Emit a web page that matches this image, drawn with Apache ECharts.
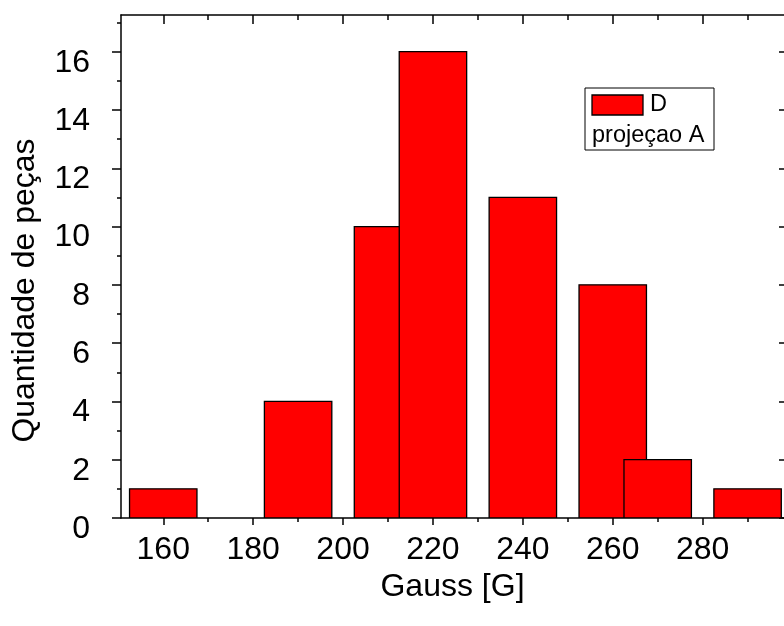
<!DOCTYPE html>
<html><head><meta charset="utf-8">
<script src="https://cdn.jsdelivr.net/npm/echarts@6/dist/echarts.min.js"></script>
<style>html,body{margin:0;padding:0;background:#fff}#c{width:784px;height:626px}</style>
</head><body><div id="c"></div>
<script>
const gaussCenters = [160, 190, 210, 220, 240, 260, 270, 290];
const counts = [1, 4, 10, 16, 11, 8, 2, 1];
const binWidth = 15;
const xTickLabels = [160, 180, 200, 220, 240, 260, 280];
const xMinorTicks = [170, 190, 210, 230, 250, 270, 290];
const yTickLabels = [0, 2, 4, 6, 8, 10, 12, 14, 16];
const yMinorTicks = [1, 3, 5, 7, 9, 11, 13, 15, 17];
const seriesName = 'D';
const legendSubtitle = 'projeçao A';
const xName = 'Gauss [G]';
const yName = 'Quantidade de peças';

const FONT = '"Liberation Sans", Arial, sans-serif';
const XMIN = 150.6, XMAX = 298.1, YMIN = 0, YMAX = 17.26;
const line = {show: true, onZero: false, lineStyle: {color: '#000', width: 1.5}};
const noLine = {show: false, onZero: false};

function xAx(pos, ticks, len, inside, opts) {
  return Object.assign({
    type: 'value', position: pos, min: XMIN, max: XMAX,
    axisLine: noLine, splitLine: {show: false},
    axisTick: {show: true, customValues: ticks, length: len, inside: inside, lineStyle: {color: '#000', width: 1.5}},
    axisLabel: {show: false}
  }, opts || {});
}
function yAx(pos, ticks, len, inside, opts) {
  return Object.assign({
    type: 'value', position: pos, min: YMIN, max: YMAX,
    axisLine: noLine, splitLine: {show: false},
    axisTick: {show: true, customValues: ticks, length: len, inside: inside, lineStyle: {color: '#000', width: 1.5}},
    axisLabel: {show: false}
  }, opts || {});
}

const data = gaussCenters.map((g, i) => [g, counts[i]]);

const option = {
  backgroundColor: '#fff',
  animation: false,
  grid: {left: 121, right: 0, top: 15, bottom: 108, containLabel: false},
  xAxis: [
    xAx('bottom', xTickLabels, 7, false, {
      axisLine: line,
      axisLabel: {show: true, customValues: xTickLabels, fontSize: 32, fontFamily: FONT, color: '#000', margin: 16},
      name: xName, nameLocation: 'middle', nameGap: 47,
      nameTextStyle: {fontSize: 32, fontFamily: FONT, color: '#000'}
    }),
    xAx('bottom', xMinorTicks, 4, false),
    xAx('top', xTickLabels, 9, true, {axisLine: line}),
    xAx('top', xMinorTicks, 5, true)
  ],
  yAxis: [
    yAx('left', yTickLabels, 9, false, {
      axisLine: line,
      axisLabel: {show: true, customValues: yTickLabels, fontSize: 32, fontFamily: FONT, color: '#000', margin: 31, verticalAlign: 'top', lineHeight: 22},
      name: yName, nameLocation: 'middle', nameGap: 80,
      nameTextStyle: {fontSize: 32, fontFamily: FONT, color: '#000', padding: [0, 48, 0, 0]}
    }),
    yAx('left', yMinorTicks, 4, false),
    yAx('right', yTickLabels, 5, true)
  ],
  series: [{
    type: 'custom', name: seriesName, xAxisIndex: 0, yAxisIndex: 0,
    data: data, encode: {x: 0, y: 1},
    clip: true,
    renderItem: function (params, api) {
      const x = api.value(0), y = api.value(1);
      const p0 = api.coord([x - binWidth / 2, y]);
      const p1 = api.coord([x + binWidth / 2, 0]);
      return {type: 'rect', shape: {x: p0[0], y: p0[1], width: p1[0] - p0[0], height: p1[1] - p0[1]},
        style: {fill: '#ff0000', stroke: '#000', lineWidth: 1.3}};
    }
  }],
  graphic: [
    {type: 'rect', shape: {x: 585, y: 88, width: 129, height: 62}, style: {fill: '#fff', stroke: '#000', lineWidth: 1}},
    {type: 'rect', shape: {x: 592, y: 95, width: 51, height: 20}, style: {fill: '#ff0000', stroke: '#000', lineWidth: 1.3}},
    {type: 'text', x: 650, y: 105, style: {text: seriesName, font: '23.5px ' + FONT, fill: '#000', verticalAlign: 'middle'}},
    {type: 'text', x: 592, y: 136, style: {text: legendSubtitle, font: '23.5px ' + FONT, fill: '#000', verticalAlign: 'middle'}}
  ]
};
echarts.init(document.getElementById('c'), null, {renderer: 'canvas'}).setOption(option);
</script></body></html>
